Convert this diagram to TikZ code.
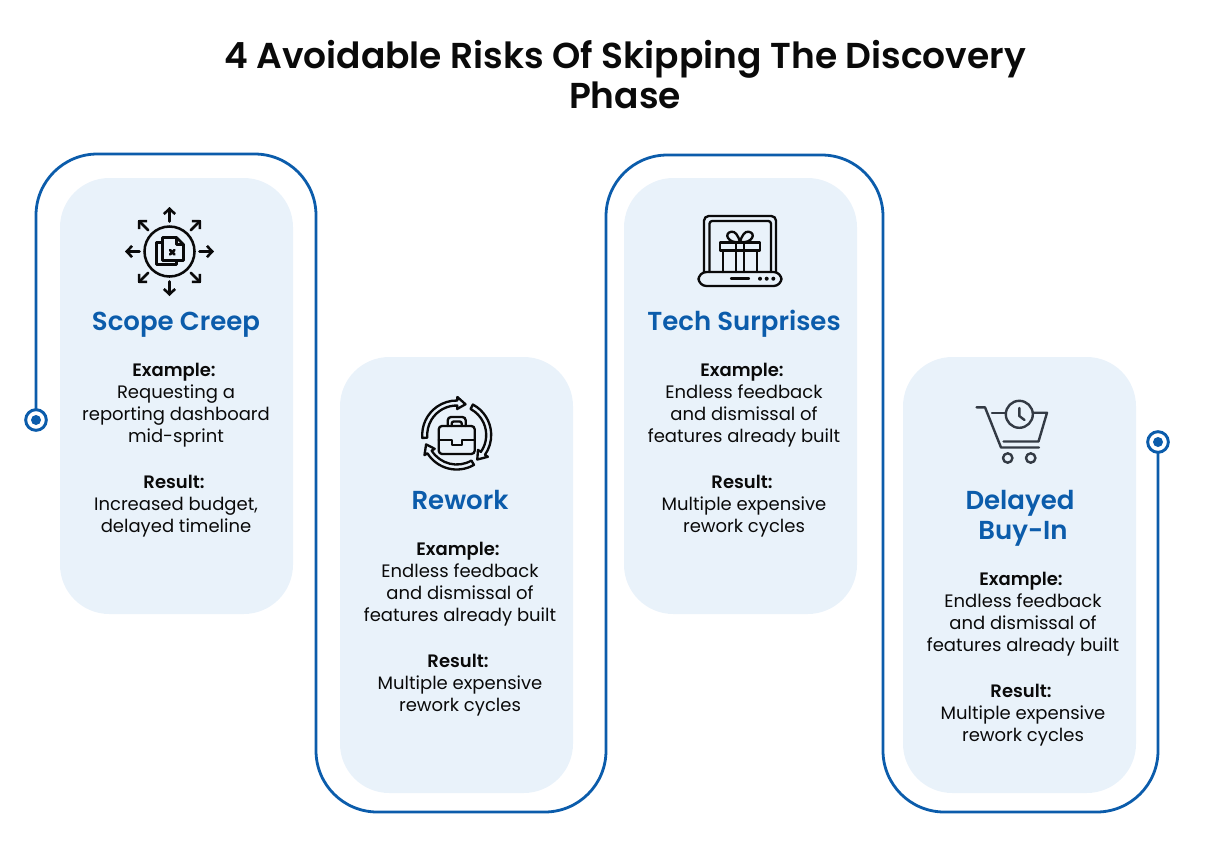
\documentclass[tikz,border=0pt]{standalone}
\usepackage{fontspec}
\setmainfont{Poppins}[BoldFont={Poppins SemiBold}]
\usetikzlibrary{arrows.meta}
\definecolor{lineblue}{HTML}{0B5CAB}
\definecolor{cardblue}{HTML}{E9F2FA}
\definecolor{cartgray}{HTML}{333A44}
\definecolor{inkblack}{HTML}{0A0A0A}
\newcommand{\ringarrow}[2]{%
    \draw[iconline] (#1:34.5) arc[start angle=#1, end angle=#2, radius=34.5] -- (#2:38) -- ({#2+15}:32) -- (#2:26) -- (#2:29.5) arc[start angle=#2, end angle=#1, radius=29.5] -- cycle;
}
\newcommand{\blocklabel}[1]{\textbf{#1}\kern3pt}
\begin{document}
\begin{tikzpicture}[
        x=0.75pt, y=-0.75pt,
        card/.style={fill=cardblue, rounded corners=37pt, minimum width=174.75pt, minimum height=327pt, inner sep=0pt},
        heading/.style={font=\fontsize{19.5}{22.5}\selectfont\bfseries, text=lineblue, align=center},
        bodytext/.style={font=\fontsize{13.5}{16.5}\selectfont, text=inkblack, align=center},
        serpent/.style={draw=lineblue, line width=2.1pt, rounded corners=46pt},
        endring/.style={circle, draw=lineblue, fill=white, line width=2.2pt, minimum size=15.5pt, inner sep=0pt},
        enddot/.style={circle, fill=lineblue, minimum size=7.5pt, inner sep=0pt},
        iconline/.style={draw=inkblack, line width=1.75pt, line join=round, line cap=round},
        heavyline/.style={draw=inkblack, line width=1.9pt, line join=round, line cap=round},
        cartline/.style={draw=cartgray, line width=1.8pt, line join=round, line cap=round}
    ]
        \useasboundingbox (0,0) rectangle (1219,854);

        % Title
        \node[font=\fontsize{27}{30}\selectfont\bfseries, text=inkblack, align=center] (title) at (625,74.5) {4 Avoidable Risks Of Skipping The Discovery\\Phase};

        % Cards
        \node[card] (card1) at (176.5,396) {};
        \node[card] (card2) at (456.5,575) {};
        \node[card] (card3) at (740.5,396) {};
        \node[card] (card4) at (1019.5,575) {};

        % Serpentine line
        \coordinate (line_start) at (36,420);
        \coordinate (line_end) at (1158,442);
        \draw[serpent] (line_start) -- (36,154) -- (316,154) -- (316,812) -- (606,812) -- (606,155) -- (883,155) -- (883,812) -- (1158,812) -- (line_end);
        \node[endring] (ring_start) at (line_start) {};
        \node[enddot] (dot_start) at (line_start) {};
        \node[endring] (ring_end) at (line_end) {};
        \node[enddot] (dot_end) at (line_end) {};

        % Headings
        \node[heading] (head1) at (176,325) {Scope Creep};
        \node[heading] (head2) at (460,500) {Rework};
        \node[heading] (head3) at (744,324) {Tech Surprises};
        \node[heading] (head4) at (1023,518) {Delayed\kern4.5pt\\Buy-In};

        % Card 1 text
        \node[bodytext] (example1) at (176,405) {\blocklabel{Example:}\\Requesting a\\reporting dashboard\\mid-sprint};
        \node[bodytext] (result1) at (176,506) {\blocklabel{Result:}\\Increased budget,\\delayed timeline};
        % Card 2 text
        \node[bodytext] (example2) at (460,584) {\blocklabel{Example:}\\Endless feedback\\and dismissal of\\features already built};
        \node[bodytext] (result2) at (460,685) {\blocklabel{Result:}\\Multiple expensive\\rework cycles};
        % Card 3 text
        \node[bodytext] (example3) at (744,405) {\blocklabel{Example:}\\Endless feedback\\and dismissal of\\features already built};
        \node[bodytext] (result3) at (744,506) {\blocklabel{Result:}\\Multiple expensive\\rework cycles};
        % Card 4 text
        \node[bodytext] (example4) at (1023,614) {\blocklabel{Example:}\\Endless feedback\\and dismissal of\\features already built};
        \node[bodytext] (result4) at (1023,715) {\blocklabel{Result:}\\Multiple expensive\\rework cycles};

        % Icon 1: document with arrows
        \begin{scope}[shift={(169.5,251.5)}]
            \draw[heavyline] (0,0) circle[radius=25];
            \foreach \a in {0,45,...,315} {
                \draw[heavyline, -{Straight Barb[length=4pt,width=8.5pt]}] (\a:30) -- (\a:44.5);
            }
            \draw[heavyline] (-7,-14) -- (7,-14) -- (14,-7) -- (14,9) -- (-7,9) -- cycle;
            \draw[heavyline] (7,-14) -- (7,-7) -- (14,-7);
            \draw[heavyline] (-7,-9) -- (-13,-9) -- (-13,13) -- (7,13) -- (7,9);
            \draw[heavyline] (0.5,-1.5) -- (5,3);
            \draw[heavyline] (5,-1.5) -- (0.5,3);
        \end{scope}

        % Icon 2: briefcase in a ring of arrows
        \begin{scope}[shift={(456.7,435)}]
            \ringarrow{-185}{-89}
            \ringarrow{-62}{35}
            \ringarrow{60}{148}
            \draw[iconline, rounded corners=2.5pt] (-18,-9) rectangle (18,19);
            \draw[iconline, rounded corners=2.5pt] (-9,-9) -- (-9,-18) -- (9,-18) -- (9,-9);
            \draw[iconline, rounded corners=1.5pt] (-5,-9) -- (-5,-13.5) -- (5,-13.5) -- (5,-9);
            \draw[iconline] (-18,5) -- (-5,5) -- (-5,10) -- (5,10) -- (5,5) -- (18,5);
        \end{scope}

        % Icon 3: gift on a laptop
        \begin{scope}[shift={(685,205)}]
            \draw[iconline, rounded corners=3.5pt] (19,67) -- (19,11) -- (91,11) -- (91,67);
            \draw[iconline, rounded corners=2pt] (24.5,67) -- (24.5,16) -- (86,16) -- (86,67);
            \draw[iconline, rounded corners=6pt] (13.5,67) -- (96.5,67) -- (96.5,81) -- (13.5,81) -- cycle;
            \draw[iconline] (46,73.5) -- (64,73.5);
            \foreach \x in {75,81.7,88.3} {
                \fill[inkblack] (\x,73.7) circle[radius=2];
            }
            \draw[iconline] (35,37.5) rectangle (75,45.5);
            \draw[iconline] (37.7,45.5) -- (37.7,67);
            \draw[iconline] (72.3,45.5) -- (72.3,67);
            \draw[iconline] (50.7,37.5) -- (50.7,67);
            \draw[iconline] (59.3,37.5) -- (59.3,67);
            \draw[iconline] (55,37) .. controls (43,39) and (38,28) .. (46.5,26.7) .. controls (50,26.2) and (53,30) .. (55,37);
            \draw[iconline] (55,37) .. controls (67,39) and (72,28) .. (63.5,26.7) .. controls (60,26.2) and (57,30) .. (55,37);
        \end{scope}

        % Icon 4: cart with a clock
        \begin{scope}[shift={(965,390)}]
            \draw[cartline] (11.5,17.3) -- (20,17.3) -- (36,57.5) -- (74,57.5);
            \draw[cartline] (38.5,51.5) -- (73.5,51.5) -- (82,22.7) -- (68,22.7);
            \draw[cartline] (27,22.7) -- (41,22.7);
            \draw[cartline] (54.3,24.3) circle[radius=13.5];
            \draw[cartline] (54.3,18) -- (54.3,26) -- (59.5,30);
            \draw[cartline] (42.7,68) circle[radius=4.7];
            \draw[cartline] (65.7,68) circle[radius=4.7];
        \end{scope}
    \end{tikzpicture}
\end{document}
